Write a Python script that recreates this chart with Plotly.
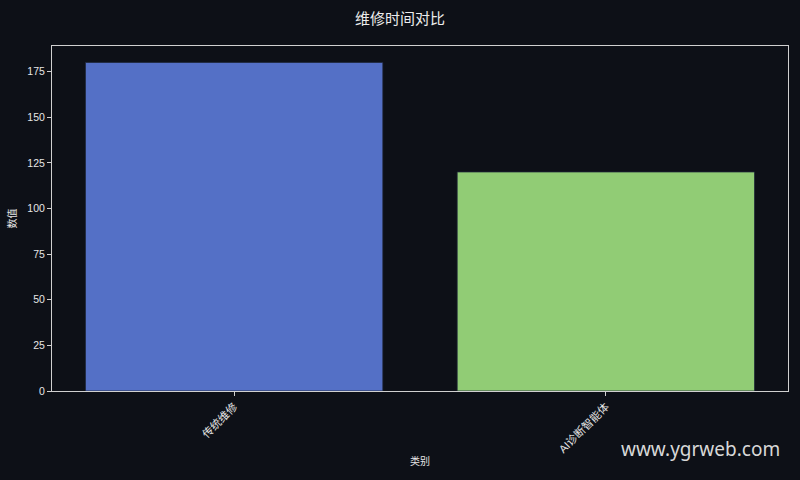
import plotly.graph_objects as go

categories = ["传统维修", "AI诊断智能体"]
values = [180, 120]
bar_colors = ["#5470c6", "#91cc75"]

BG = "#0d1017"
FONT = "Liberation Sans, Noto Sans CJK SC"
AXIS = "#d0d0d0"

fig = go.Figure()
fig.add_trace(go.Bar(
    x=list(range(len(categories))), y=values,
    width=0.8,
    marker=dict(color=bar_colors, line=dict(color="#1e2638", width=0.8)),
    showlegend=False,
))

fig.update_layout(
    width=800, height=480,
    paper_bgcolor=BG, plot_bgcolor=BG,
    margin=dict(l=52, r=12, t=46, b=89),
    font=dict(family=FONT, color="#e6e6e6", size=11),
    title=dict(text="维修时间对比", x=0.5, xanchor="center", y=0.96, yanchor="middle",
               font=dict(family="Noto Sans CJK SC", size=15, color="#ececec")),
)
fig.update_xaxes(
    range=[-0.49, 1.49], automargin=False,
    tickmode="array", tickvals=list(range(len(categories))), ticktext=categories,
    tickangle=-45, ticks="outside", ticklen=4, tickcolor=AXIS,
    showline=True, linecolor=AXIS, linewidth=1, mirror=True,
    showgrid=False, zeroline=False,
    tickfont=dict(size=11),
)
fig.update_yaxes(
    range=[0, 189], automargin=False,
    tickvals=[0, 25, 50, 75, 100, 125, 150, 175],
    ticks="outside", ticklen=4, tickcolor=AXIS,
    showline=True, linecolor=AXIS, linewidth=1, mirror=True,
    showgrid=False, zeroline=False,
    title=dict(text="数值", font=dict(size=10), standoff=8),
    tickfont=dict(size=10.5),
)
# x axis title
fig.add_annotation(
    text="类别", xref="paper", yref="paper", x=0.5, y=-0.203,
    xanchor="center", yanchor="middle", showarrow=False, font=dict(size=10),
)
fig.add_annotation(
    text="www.ygrweb.com", xref="paper", yref="paper",
    x=0.992, y=-0.168, xanchor="right", yanchor="middle", showarrow=False,
    font=dict(family="Noto Sans", size=19, color="#d8d8d8"),
)

fig.write_html("out.html", config={"displayModeBar": False},
               post_script="document.body.style.margin='0';document.body.style.background='#0d1017';")
